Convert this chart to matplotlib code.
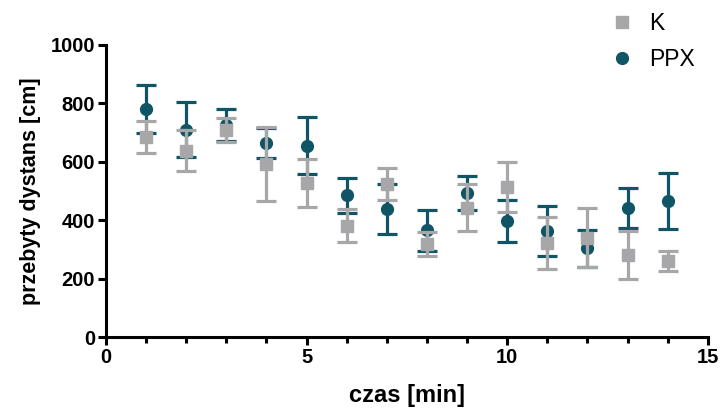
import matplotlib
matplotlib.use("Agg")
import matplotlib.pyplot as plt
from matplotlib.ticker import MultipleLocator
from matplotlib.lines import Line2D

plt.rcParams['font.family'] = ['Liberation Sans', 'DejaVu Sans']

time_min = [1, 2, 3, 4, 5, 6, 7, 8, 9, 10, 11, 12, 13, 14]

k_mean = [685, 638, 709, 592, 527, 381, 524, 318, 443, 513, 322, 340, 281, 260]
k_err = [55, 70, 41, 128, 82, 56, 54, 40, 80, 85, 89, 100, 82, 33]

ppx_mean = [781, 710, 726, 664, 655, 486, 438, 365, 494, 397, 364, 304, 442, 465]
ppx_err = [82, 95, 55, 52, 98, 60, 85, 70, 58, 73, 85, 63, 69, 96]

teal = '#0f5566'
grey = '#a7a7a9'

fig = plt.figure(figsize=(7.26, 4.08), dpi=100)
ax = fig.add_axes([0.146, 0.174, 0.829, 0.716])

ax.errorbar(time_min, ppx_mean, yerr=ppx_err, fmt='o', color=teal, ms=8.5,
            elinewidth=2.3, capsize=7, capthick=2.3, label='PPX', zorder=3)
ax.errorbar(time_min, k_mean, yerr=k_err, fmt='s', color=grey, ms=8,
            elinewidth=2.3, capsize=7, capthick=2.3, label='K', zorder=4)

ax.set_xlim(0, 15)
ax.set_ylim(0, 1000)
ax.xaxis.set_major_locator(MultipleLocator(5))
ax.xaxis.set_minor_locator(MultipleLocator(1))
ax.yaxis.set_major_locator(MultipleLocator(200))

for side in ('top', 'right'):
    ax.spines[side].set_visible(False)
for side in ('left', 'bottom'):
    ax.spines[side].set_linewidth(2.2)

ax.tick_params(which='major', direction='out', length=6, width=2.2,
               labelsize=14.5, pad=2)
ax.tick_params(which='minor', direction='out', length=4, width=2.2)
for lbl in ax.get_xticklabels() + ax.get_yticklabels():
    lbl.set_fontweight('bold')

ax.set_xlabel('czas [min]', fontsize=17, fontweight='bold', labelpad=12)
ax.set_ylabel('przebyty dystans [cm]', fontsize=15.5, fontweight='bold', labelpad=7)

# legend: squares and circles only, no error bars
handles = [
    Line2D([], [], marker='s', color=grey, ls='none', ms=9),
    Line2D([], [], marker='o', color=teal, ls='none', ms=8.5),
]
fig.legend(handles, ['K', 'PPX'], loc='upper left', bbox_to_anchor=(0.812, 1.02),
           frameon=False, fontsize=16.5, handletextpad=0.7, labelspacing=0.55,
           handlelength=1.0)

fig.savefig('out.png', dpi=100)
